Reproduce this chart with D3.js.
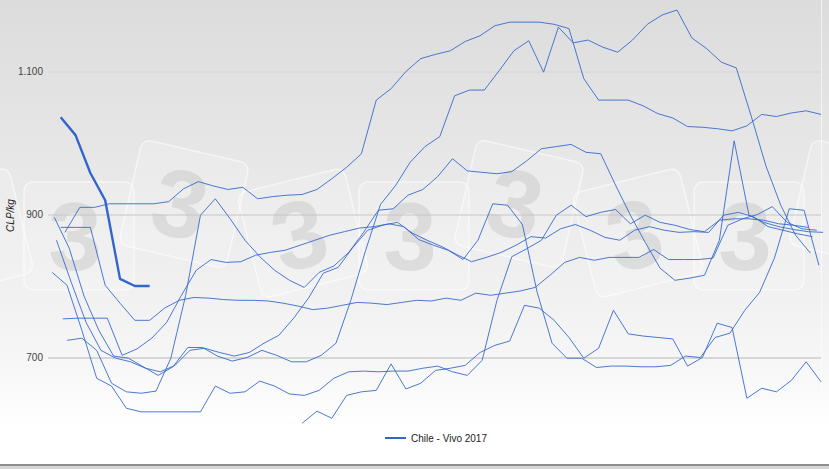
<!DOCTYPE html>
<html>
<head>
<meta charset="utf-8">
<script src="https://cdn.jsdelivr.net/npm/d3@7/dist/d3.min.js"></script>
<style>
  html, body { margin: 0; padding: 0; background: #fff; }
  svg { display: block; font-family: "Liberation Sans", Arial, sans-serif; }
</style>
</head>
<body>
<svg id="chart" width="829" height="469"></svg>
<script>
// Weekly live-weight price in Chile (CLP/kg), one line per season.
// Each season: day of the year of its first weekly quote, then the weekly prices.
const yTicks = [700, 900, 1100];
const axisTitle = "CLP/kg";
const legendLabel = "Chile - Vivo 2017";

const seasons  = ["2009", "2010", "2011", "2012", "2013", "2014", "2015", "2016", "2017"];
const firstDay = [2, 3, 4, 6, 7, 8, 9, 120, 6];

const price2009 = [819, 801, 738, 671, 660, 629, 624, 624, 624, 624, 624, 660, 650, 652, 667, 660, 649, 647,
  654, 671, 680, 681, 680, 681, 681, 685, 688, 680, 675, 696, 780, 841, 852, 864, 899, 913, 897, 903, 907, 887,
  899, 889, 885, 879, 876, 892, 894, 894, 892, 887, 885, 882];
const price2010 = [896, 853, 786, 738, 702, 699, 687, 675, 687, 714, 714, 702, 695, 700, 710, 703, 694, 694,
  703, 720, 780, 850, 914, 940, 973, 995, 1009, 1066, 1074, 1074, 1101, 1129, 1143, 1099, 1162, 1140, 1144, 1134,
  1127, 1144, 1166, 1179, 1186, 1147, 1132, 1113, 1105, 1038, 968, 913, 871, 846];
const price2011 = [864, 805, 749, 710, 699, 694, 685, 680, 689, 710, 713, 707, 702, 707, 720, 731, 755, 783,
  818, 826, 854, 878, 885, 889, 874, 864, 855, 844, 834, 840, 847, 857, 869, 867, 880, 886, 878, 868, 864, 878,
  883, 878, 875, 876, 875, 899, 903, 897, 883, 878, 873, 869];
const price2012 = [882, 882, 882, 801, 776, 752, 752, 769, 780, 784, 783, 781, 780, 780, 779, 776, 772, 767,
  769, 773, 777, 776, 774, 777, 780, 779, 783, 780, 790, 787, 790, 793, 798, 815, 833, 840, 836, 840, 840, 840,
  851, 837, 837, 837, 839, 885, 894, 900, 911, 889, 880, 878];
const price2013 = [754, 755, 755, 755, 703, 712, 727, 749, 787, 822, 837, 833, 834, 843, 847, 850, 857, 864,
  871, 876, 881, 883, 887, 883, 865, 857, 850, 837, 864, 915, 913, 886, 791, 720, 699, 699, 686, 688, 688, 687,
  687, 689, 702, 700, 728, 734, 766, 791, 839, 908, 906, 829];
const price2014 = [875, 910, 910, 915, 915, 915, 915, 918, 936, 946, 940, 935, 938, 922, 925, 927, 928, 935,
  950, 966, 985, 1060, 1076, 1100, 1118, 1124, 1129, 1142, 1150, 1164, 1169, 1169, 1169, 1166, 1160, 1090, 1060,
  1060, 1060, 1052, 1041, 1035, 1023, 1022, 1020, 1017, 1024, 1040, 1037, 1042, 1045, 1040];
const price2015 = [724, 727, 710, 664, 652, 650, 653, 699, 787, 899, 922, 894, 864, 841, 822, 808, 798, 819,
  828, 847, 875, 906, 908, 927, 935, 953, 978, 961, 959, 957, 960, 975, 992, 995, 998, 987, 985, 941, 899, 861,
  825, 808, 811, 815, 864, 1003, 899, 889, 883, 879, 876, 875];
const price2016 = [608, 625, 615, 647, 652, 654, 691, 656, 664, 682, 685, 689, 707, 717, 723, 773, 769, 752,
  728, 699, 713, 766, 733, 730, 728, 726, 688, 700, 748, 742, 643, 657, 652, 668, 694, 666];
const price2017 = [1036, 1011, 958, 920, 810, 800, 800];

const prices = [price2009, price2010, price2011, price2012, price2013, price2014, price2015, price2016, price2017];
const current = seasons.length - 1;

const W = 829, H = 469;
const plot = { left: 48, right: 821, top: 0, bottom: 429 };
const blue = "#3366cc";

const svg = d3.select("#chart");
const defs = svg.append("defs");

// soft grey-to-white backdrop
const grad = defs.append("linearGradient")
  .attr("id", "bg").attr("gradientUnits", "userSpaceOnUse")
  .attr("x1", 0).attr("y1", 0).attr("x2", 0).attr("y2", 432);
[[0, "#dcdcdc"], [0.5, "#ebebeb"], [0.83, "#f6f6f6"], [1, "#ffffff"]].forEach(([o, c]) =>
  grad.append("stop").attr("offset", o).attr("stop-color", c));

svg.append("rect").attr("width", W).attr("height", H).attr("fill", "#fff");
svg.append("rect").attr("width", W).attr("height", 432).attr("fill", "url(#bg)");
svg.append("line")
  .attr("x1", plot.right + 0.5).attr("x2", plot.right + 0.5)
  .attr("y1", 0).attr("y2", 430)
  .attr("stroke", "#ffffff").attr("stroke-opacity", 0.6);

// faint "3" logo tiles in the background
const marks = svg.append("g").attr("class", "watermark");
for (let k = -1; k <= 2; k++) {
  const dx = 335 * k;
  [[79 + dx, 236, 0], [184 + dx, 204, 13], [303 + dx, 233, -14]].forEach(([cx, cy, a]) => {
    if (cx < -60 || cx > W + 60) return;
    const t = marks.append("g").attr("transform", `translate(${cx},${cy}) rotate(${a})`);
    t.append("rect")
      .attr("x", -55).attr("y", -54).attr("width", 110).attr("height", 108).attr("rx", 9)
      .attr("fill", "#ffffff").attr("fill-opacity", 0.16)
      .attr("stroke", "#ffffff").attr("stroke-opacity", 0.55).attr("stroke-width", 1.5);
    // the glyph is only drawn where the whole tile sits inside the frame
    if (cx - 40 < 0 || cx + 40 > plot.right) return;
    t.append("text")
      .attr("x", -4).attr("y", 34)
      .attr("text-anchor", "middle")
      .attr("font-size", 96).attr("font-weight", "bold")
      .attr("fill", "#b9b9b9").attr("fill-opacity", 0.36)
      .text("3");
  });
}

const x = d3.scaleLinear().domain([0, 365]).range([plot.left, plot.right]);
const y = d3.scaleLinear().domain([600, 1200]).range([plot.bottom, plot.top]);

// value axis with gridlines
const fmt = d3.formatLocale({ decimal: ",", thousands: ".", grouping: [3], currency: ["$", ""] }).format(",d");
const gridTone = d3.interpolateRgb("#dcdcdc", "#b0b0b0");
const yAxis = svg.append("g")
  .attr("transform", `translate(${plot.left},0)`)
  .call(d3.axisLeft(y).tickValues(yTicks).tickFormat(fmt)
    .tickSize(-(plot.right - plot.left)).tickPadding(5));
yAxis.select(".domain").remove();
yAxis.selectAll(".tick line")
  .attr("stroke", d => gridTone(y(d) / plot.bottom));
yAxis.selectAll(".tick text")
  .attr("font-size", 10).attr("fill", "#444")
  .attr("font-family", "'Liberation Sans', Arial, sans-serif");

svg.append("text")
  .attr("transform", `translate(14,${(plot.top + plot.bottom) / 2 + 1}) rotate(-90)`)
  .attr("text-anchor", "middle")
  .attr("font-size", 10).attr("font-style", "italic").attr("fill", "#222")
  .text(axisTitle);

// season lines
const series = seasons.map((name, i) => ({ name, start: firstDay[i], values: prices[i] }));
const lineGen = d3.line().x(p => x(p.d)).y(p => y(p.v));

const lines = svg.append("g").attr("fill", "none").attr("stroke-linejoin", "round");
series.forEach((s, i) => {
  const pts = s.values.map((v, j) => ({ d: s.start + 7 * j, v }));
  lines.append("path")
    .datum(pts)
    .attr("d", lineGen)
    .attr("stroke", blue)
    .attr("stroke-width", i === current ? 2.4 : 1)
    .attr("stroke-opacity", i === current ? 1 : 0.88);
});

// legend
const lg = svg.append("g").attr("transform", "translate(385,438)");
lg.append("line").attr("x1", 0).attr("x2", 21).attr("y1", 0).attr("y2", 0)
  .attr("stroke", blue).attr("stroke-width", 2);
lg.append("text").attr("x", 26).attr("y", 4)
  .attr("font-size", 10).attr("fill", "#222")
  .text(legendLabel);

// bottom frame edge
svg.append("rect").attr("x", 0).attr("y", 464).attr("width", W).attr("height", 2).attr("fill", "#8f8f8f");
svg.append("rect").attr("x", 0).attr("y", 466).attr("width", W).attr("height", 3).attr("fill", "#d6d6d6");
</script>
</body>
</html>
